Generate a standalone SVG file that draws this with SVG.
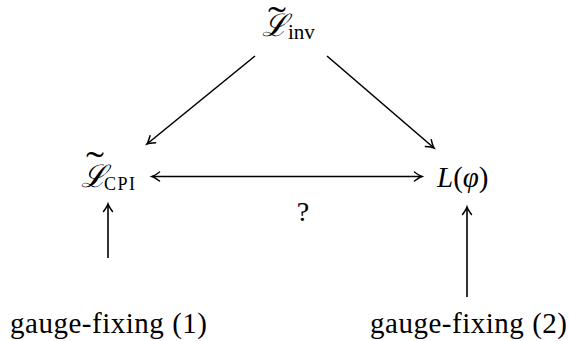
<svg xmlns="http://www.w3.org/2000/svg" width="569" height="341" viewBox="0 0 569 341">
<defs>
<marker id="ah" markerUnits="userSpaceOnUse" markerWidth="16" markerHeight="16" refX="0" refY="0" viewBox="-10 -8 12 16" orient="auto-start-reverse" overflow="visible">
<path d="M -7.5 -4.5 Q -2.5 -0.8 0 0 Q -2.5 0.8 -7.5 4.5" fill="none" stroke="#000" stroke-width="1.5" stroke-linecap="round"/>
</marker>
</defs>
<style>
.t{font-family:"Liberation Serif","Times New Roman","DejaVu Serif",serif;fill:#000}
.s{font-family:"DejaVu Serif","Liberation Serif",serif;fill:#000}
.c{stroke:#000;stroke-width:1.6;fill:none}
</style>
<rect width="569" height="341" fill="#fff"/>
<g id="inv">
<text class="s" x="262" y="36" font-size="31" font-style="italic">ℒ</text>
<text class="t" x="0" y="0" font-size="36" text-anchor="middle" transform="translate(277,32) scale(1.5,1)">˜</text>
<text class="t" x="288" y="39" font-size="21">inv</text>
</g>
<g id="cpi">
<text class="s" x="81" y="187" font-size="31" font-style="italic">ℒ</text>
<text class="t" x="0" y="0" font-size="36" text-anchor="middle" transform="translate(95,177) scale(1.5,1)">˜</text>
<text class="t" x="104" y="190" font-size="18" textLength="31">CPI</text>
</g>
<g id="lphi">
<text class="t" x="437" y="187" font-size="29"><tspan font-style="italic">L</tspan>(<tspan font-style="italic">φ</tspan>)</text>
</g>
<g id="q">
<text class="t" x="303" y="221" font-size="28" text-anchor="middle">?</text>
</g>
<g id="gf1">
<text class="t" x="10" y="333" font-size="29" textLength="197">gauge-fixing (1)</text>
</g>
<g id="gf2">
<text class="t" x="370" y="333" font-size="29" textLength="197">gauge-fixing (2)</text>
</g>
<g id="connectors">
<line class="c" x1="255" y1="56" x2="147" y2="144" marker-end="url(#ah)"/>
<line class="c" x1="327" y1="56" x2="434" y2="148" marker-end="url(#ah)"/>
<line class="c" x1="152" y1="176.5" x2="422" y2="176.5" marker-start="url(#ah)" marker-end="url(#ah)"/>
<line class="c" x1="108" y1="258" x2="108" y2="204" marker-end="url(#ah)"/>
<line class="c" x1="467" y1="297" x2="467" y2="207" marker-end="url(#ah)"/>
</g>
</svg>
